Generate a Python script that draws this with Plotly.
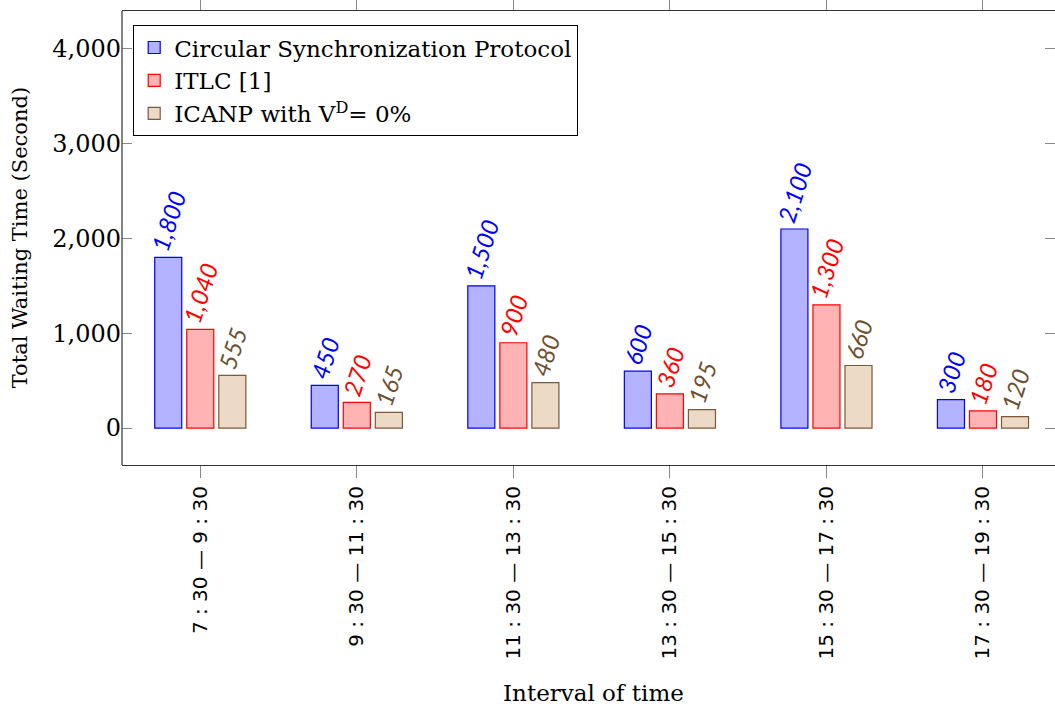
import plotly.graph_objects as go

categories = ["7 : 30 — 9 : 30", "9 : 30 — 11 : 30", "11 : 30 — 13 : 30",
              "13 : 30 — 15 : 30", "15 : 30 — 17 : 30", "17 : 30 — 19 : 30"]
series_names = ["Circular Synchronization Protocol", "ITLC [1]", "ICANP with V<sup>D</sup>= 0%"]
csp_values = [1800, 450, 1500, 600, 2100, 300]
itlc_values = [1040, 270, 900, 360, 1300, 180]
icanp_values = [555, 165, 480, 195, 660, 120]

fills = ["#B3B3FF", "#FFB3B3", "#ECD9C6"]
edges = ["#0000FF", "#FF0000", "#7A5A3A"]
text_colors = ["#0000FF", "#FF0000", "#6E5030"]

fig = go.Figure()
for name, vals, fc, ec, tc in zip(series_names, [csp_values, itlc_values, icanp_values],
                                   fills, edges, text_colors):
    fig.add_trace(go.Bar(
        x=list(range(len(categories))), y=vals, name=name,
        marker=dict(color=fc, line=dict(color=ec, width=1.2)),
        text=[f"{v:,}" for v in vals], textposition="outside", textangle=-72,
        constraintext="none", cliponaxis=False,
        textfont=dict(family="Lato", size=24, color=tc, style="italic"),
    ))

fig.update_layout(
    width=1055, height=709,
    margin=dict(l=122, r=0, t=11, b=244, autoexpand=False),
    paper_bgcolor="white", plot_bgcolor="white",
    barmode="group", bargap=0.386, bargroupgap=0.156,
    showlegend=True,
    legend=dict(x=0.012, y=0.969, xanchor="left", yanchor="top",
                bordercolor="black", borderwidth=1, bgcolor="white",
                font=dict(family="DejaVu Serif", size=23, color="black"),
                tracegroupgap=3, itemwidth=30),
    xaxis=dict(
        range=[-0.5, 5.46], tickmode="array", automargin=False,
        tickvals=list(range(len(categories))), ticktext=categories,
        tickangle=-90, ticks="outside", ticklen=12, tickcolor="#888",
        showline=True, linecolor="#333", linewidth=1.2, mirror="ticks",
        showgrid=False, zeroline=False,
        tickfont=dict(family="DejaVu Sans", size=20, color="black"),
    ),
    yaxis=dict(
        range=[-390, 4400], tickvals=[0, 1000, 2000, 3000, 4000], automargin=False,
        tickformat=",", ticks="inside", ticklen=10, tickcolor="#888",
        showline=False, mirror="ticks", showgrid=False, zeroline=False,
        tickfont=dict(family="DejaVu Serif", size=24, color="black"),
    ),
    shapes=[dict(type="line", xref="paper", yref="paper", x0=0, x1=0, y0=0, y1=1,
                 line=dict(color="#333", width=1.2))],
    annotations=[
        dict(text="Total Waiting Time (Second)", xref="paper", yref="paper",
             x=-0.109, y=0.5, xanchor="center", yanchor="middle", textangle=-90,
             showarrow=False, font=dict(family="DejaVu Serif", size=21, color="black")),
        dict(text="Interval of time", x=0.505, y=-0.502, xref="paper", yref="paper",
             xanchor="center", yanchor="middle", showarrow=False,
             font=dict(family="DejaVu Serif", size=23, color="black")),
    ],
)

fig.write_html("out.html", config={"displayModeBar": False},
               post_script="document.body.style.margin='0';")
